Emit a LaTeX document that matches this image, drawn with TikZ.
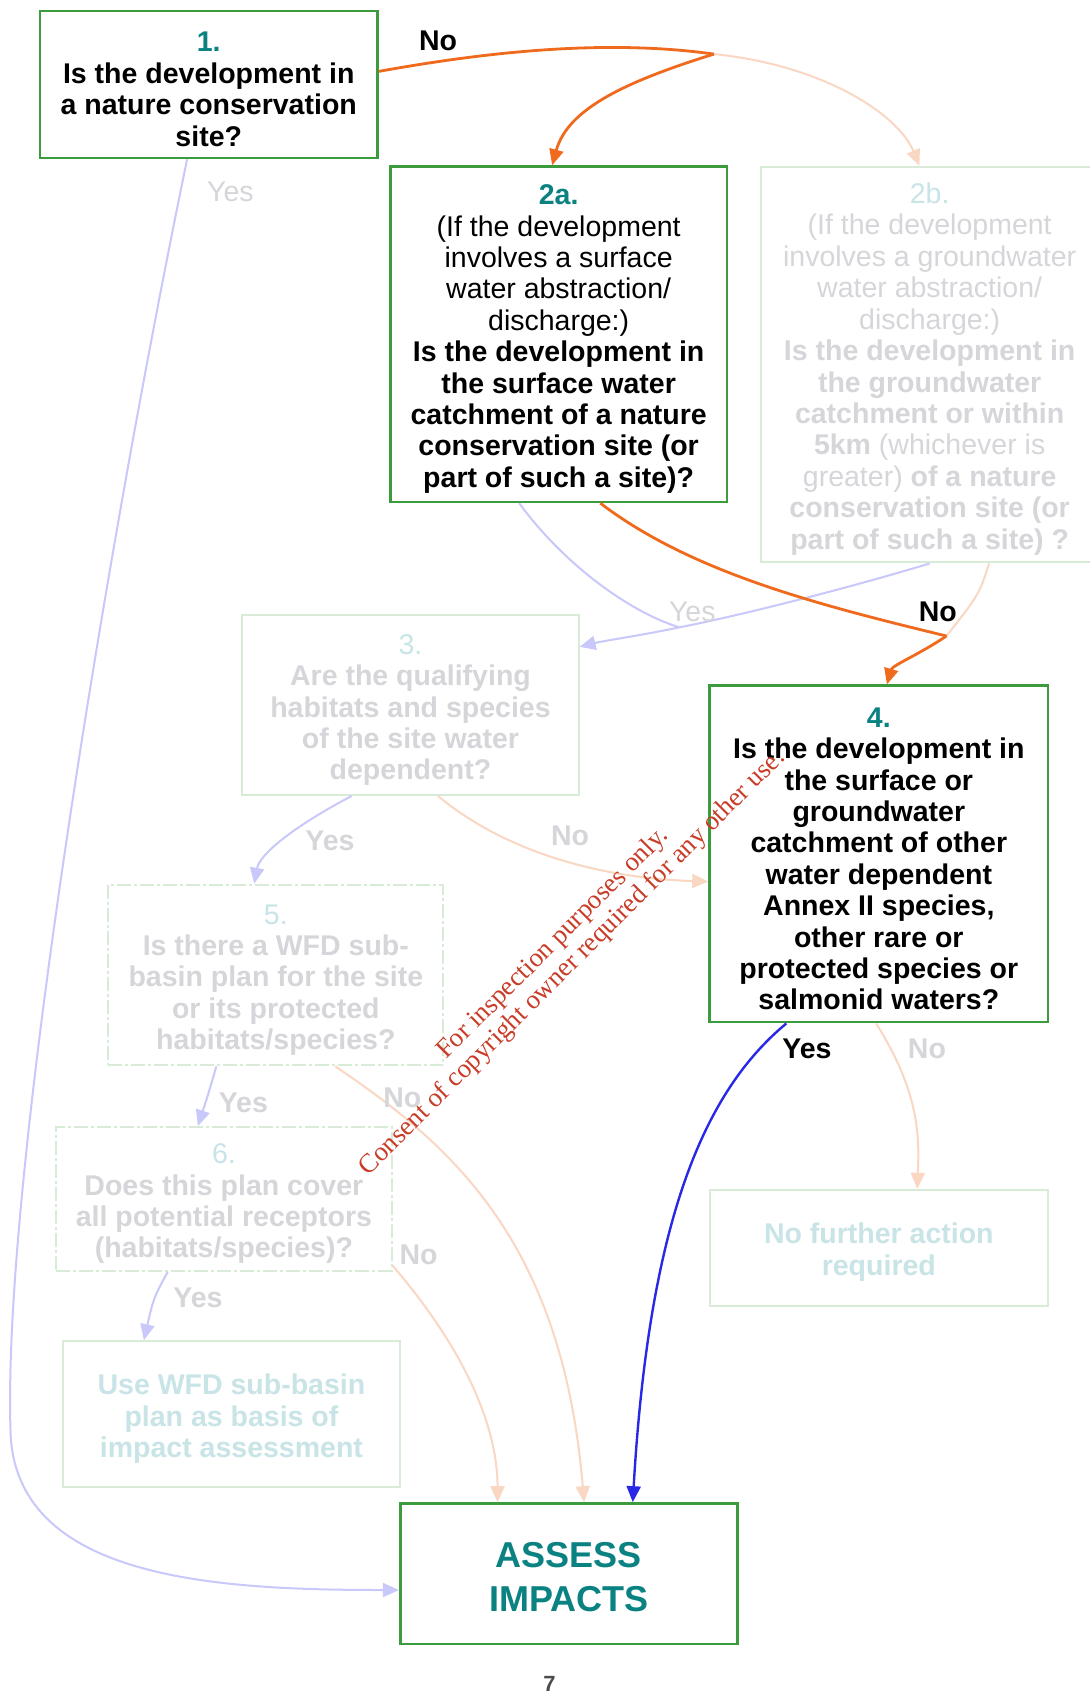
\documentclass[tikz,border=0pt]{standalone}
\usepackage{fontspec}
\setmainfont{Liberation Sans}
\newfontfamily\wmfont{Liberation Serif}
\usetikzlibrary{arrows.meta,calc}
\definecolor{boxgreen}{HTML}{3C9B3C}
\definecolor{fadegreen}{HTML}{D7EBD7}
\definecolor{tealnum}{HTML}{0A8282}
\definecolor{fadeteal}{HTML}{C8E4E6}
\definecolor{fadegrey}{HTML}{D6D6DA}
\definecolor{mainorange}{HTML}{F06A1E}
\definecolor{fadeorange}{HTML}{FAD7C3}
\definecolor{mainblue}{HTML}{2828E6}
\definecolor{lavender}{HTML}{C8C8FA}
\definecolor{wmred}{HTML}{C83C28}
\newcommand{\txtsz}{\fontsize{28.5}{31.4}\selectfont}
\newcommand{\tp}{\rule{0pt}{29.5pt}}
\newcommand{\tpbig}{\rule{0pt}{32pt}}
\begin{document}
\begin{tikzpicture}[x=1.0814pt,y=-1.0814pt,
  qbox/.style={draw=boxgreen, line width=2.6pt, align=center, inner sep=0pt, font=\txtsz, text=black},
  fbox/.style={draw=fadegreen, line width=2pt, align=center, inner sep=0pt, font=\txtsz, text=fadegrey},
  dbox/.style={fbox, dash pattern=on 14pt off 3pt on 3pt off 3pt},
  lbl/.style={font=\txtsz\bfseries, text=black, inner sep=0pt},
  flbl/.style={font=\txtsz\bfseries, text=fadegrey, inner sep=0pt},
  tip/.style={-{Triangle[length=16pt,width=14pt]}},
  oarr/.style={tip, draw=mainorange, line width=2.8pt},
  farr/.style={tip, draw=fadeorange, line width=2pt},
  barr/.style={tip, draw=mainblue, line width=2.4pt},
  larr/.style={tip, draw=lavender, line width=2pt},
]
\useasboundingbox[fill=white] (0,0) rectangle (1007,1568);

% boxes
\node[qbox, minimum width=337.4pt, minimum height=147.1pt] (b1) at (193,78)
  {\tp\textcolor{tealnum}{\bfseries 1.}\\ \textbf{Is the development in}\\ \textbf{a nature conservation}\\ \textbf{site?}};
\node[qbox, minimum width=336.3pt, minimum height=335.2pt] (b2a) at (516.5,309)
  {\tp\textcolor{tealnum}{\bfseries 2a.}\\(If the development\\involves a surface\\water abstraction/\\discharge:)\\
   \textbf{Is the development in}\\ \textbf{the surface water}\\ \textbf{catchment of a nature}\\ \textbf{conservation site (or}\\ \textbf{part of such a site)?}};
\node[fbox, minimum width=336.3pt, minimum height=395.8pt] (b2b) at (859.5,337)
  {\tp\textcolor{fadeteal}{2b.}\\(If the development\\involves a groundwater\\water abstraction/\\discharge:)\\
   \textbf{Is the development in}\\ \textbf{the groundwater}\\ \textbf{catchment or within}\\ \textbf{5km} (whichever is\\greater) \textbf{of a nature}\\ \textbf{conservation site (or}\\ \textbf{part of such a site) ?}};
\node[fbox, minimum width=336.3pt, minimum height=179.5pt] (b3) at (379.5,652)
  {\tp\textcolor{fadeteal}{3.}\\ \textbf{Are the qualifying}\\ \textbf{habitats and species}\\ \textbf{of the site water}\\ \textbf{dependent?}};
\node[qbox, minimum width=338.5pt, minimum height=336.3pt] (b4) at (812.5,789.5)
  {\tp\textcolor{tealnum}{\bfseries 4.}\\ \textbf{Is the development in}\\ \textbf{the surface or}\\ \textbf{groundwater}\\ \textbf{catchment of other}\\ \textbf{water dependent}\\ \textbf{Annex II species,}\\ \textbf{other rare or}\\ \textbf{protected species or}\\ \textbf{salmonid waters?}};
\node[dbox, minimum width=335.2pt, minimum height=180.6pt] (b5) at (255,901.5)
  {\tp\textcolor{fadeteal}{5.}\\ \textbf{Is there a WFD sub-}\\ \textbf{basin plan for the site}\\ \textbf{or its protected}\\ \textbf{habitats/species?}};
\node[dbox, minimum width=335.2pt, minimum height=143.8pt] (b6) at (207,1108.5)
  {\tp\textcolor{fadeteal}{6.}\\ \textbf{Does this plan cover}\\ \textbf{all potential receptors}\\ \textbf{(habitats/species)?}};
\node[fbox, text=fadeteal, font=\txtsz\bfseries, minimum width=337.4pt, minimum height=146pt] (use) at (214,1307.5)
  {\tp Use WFD sub-basin\\plan as basis of\\impact assessment};
\node[fbox, text=fadeteal, font=\txtsz\bfseries, minimum width=338.5pt, minimum height=115.7pt] (nf) at (812.5,1153.5)
  {\tp No further action\\required};
\node[qbox, text=tealnum, font=\fontsize{36}{44}\selectfont\bfseries, minimum width=337.4pt, minimum height=140.6pt] (as) at (526,1455)
  {\tpbig ASSESS\\IMPACTS};

% junction points
\coordinate (j1) at (660,50);
\coordinate (j2) at (875,588);
\coordinate (j3) at (628,580);

% faded connectors first
\draw[larr] ($(b1.south)+(-20,0)$) .. controls (100,500) and (0,1100) .. (10,1330)
   .. controls (20,1460) and (200,1470) .. ($(as.west)+(0,15)$);
\draw[farr] (j1) .. controls (760,60) and (830,105) .. ($(b2b.north)+(-9.5,0)$);
\draw[draw=lavender, line width=2pt] ($(b2a.south)+(-36.5,0)$) .. controls (520,520) and (580,565) .. (j3);
\draw[draw=lavender, line width=2pt] (b2b.south) .. controls (780,545) and (680,570) .. (j3);
\draw[larr] (j3) .. controls (590,588) and (560,592) .. ($(b3.east)+(0,-54)$);
\draw[draw=fadeorange, line width=2pt] ($(b2b.south)+(55,0)$) .. controls (905,550) .. (j2);
\draw[larr] ($(b3.south)+(-54.5,0)$) .. controls (270,765) and (240,790) .. ($(b5.north)+(-20,0)$);
\draw[farr] ($(b3.south)+(25.5,0)$) .. controls (470,790) and (560,812) .. ($(b4.west)+(0,25.5)$);
\draw[larr] ($(b5.south)+(-55,0)$) .. controls (193,1010) .. ($(b6.north)+(-24,0)$);
\draw[farr] ($(b5.south)+(55,0)$) .. controls (420,1060) and (520,1150) .. ($(as.north)+(14,0)$);
\draw[larr] ($(b6.south)+(-52,0)$) .. controls (142,1200) .. ($(use.north)+(-81,0)$);
\draw[farr] ($(b6.east)+(0,61.5)$) .. controls (440,1260) and (460,1330) .. ($(as.north)+(-66,0)$);
\draw[farr] ($(b4.south)+(-2.5,0)$) .. controls (850,1010) and (850,1050) .. ($(nf.north)+(35.5,0)$);

% main connectors
\draw[draw=mainorange, line width=2.8pt] ($(b1.east)+(0,-12)$) .. controls (450,48) and (560,36) .. (j1);
\draw[oarr] (j1) .. controls (580,75) and (525,100) .. ($(b2a.north)+(-6,0)$);
\draw[draw=mainorange, line width=2.8pt] ($(b2a.south)+(38.5,0)$) .. controls (640,530) and (760,560) .. (j2);
\draw[oarr] (j2) .. controls (850,605) and (825,615) .. ($(b4.north)+(7.5,0)$);
\draw[barr] ($(b4.south)+(-85.5,0)$) .. controls (650,1010) and (600,1130) .. ($(as.north)+(59,0)$);

% labels
\node[lbl] (l1) at (405,38) {No};
\node[flbl, font=\txtsz] (l2) at (213,177) {Yes};
\node[flbl, font=\txtsz] (l3) at (640,566) {Yes};
\node[lbl] (l4) at (867,566) {No};
\node[flbl] (l5) at (305,777) {Yes};
\node[flbl] (l6) at (527,773) {No};
\node[flbl] (l7) at (225,1020) {Yes};
\node[flbl] (l8) at (372,1015) {No};
\node[flbl] (l9) at (183,1200) {Yes};
\node[flbl] (l10) at (387,1160) {No};
\node[lbl] (l11) at (746,970) {Yes};
\node[flbl] (l12) at (857,970) {No};

% page number
\node[font=\fontsize{22}{24}\selectfont\bfseries, text=black!70, inner sep=0pt] (pg) at (508,1557) {7};

% watermark
\node[rotate=45, align=center, text=wmred, font=\wmfont\fontsize{26.8}{27.4}\selectfont, inner sep=0pt] (wm) at (520.5,881.5)
  {For inspection purposes only.\\Consent of copyright owner required for any other use.};
\end{tikzpicture}
\end{document}
